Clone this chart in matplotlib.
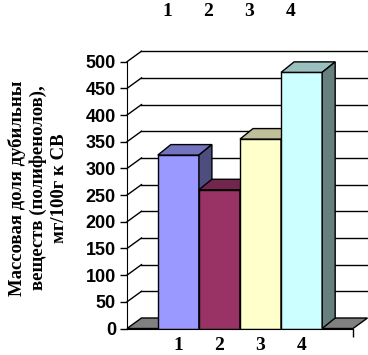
import numpy as np
import matplotlib.pyplot as plt
import matplotlib.transforms as mtransforms
from matplotlib.patches import Polygon

# data
categories = [1, 2, 3, 4]
values = [325, 260, 355, 480]
cat_labels = ['1', '2', '3', '4']
bar_colors = ['#9999FF', '#993366', '#FFFFCC', '#CCFFFF']
y_ticks = list(range(0, 501, 50))
y_title = 'Массовая доля дубильны\nвеществ (полифенолов),\nмг/100г к СВ'

W, H = 368, 355
fig = plt.figure(figsize=(W / 100, H / 100), dpi=100)
fig.patch.set_facecolor('white')

# front plane of the chart in pixels
x0, x1 = 127, 353
y0, y1 = 328.5, 61.7
ax = fig.add_axes([x0 / W, (H - y0) / H, (x1 - x0) / W, (y0 - y1) / H])

xmin, xmax = 0.25, 5.25 - 0.5 + 0.5
xmin, xmax = -0.25, 5.25
ax.set_xlim(xmin, xmax)
ax.set_ylim(0, 500)

# depth offset (3d look) in data units
px_x = (xmax - xmin) / (x1 - x0)
px_y = 500 / (y0 - y1)
dx, dy = 14.5 * px_x, 10.5 * px_y
bdx, bdy = 13 * px_x, 10.5 * px_y


def darker(c, f):
    r, g, b = [int(c[i:i + 2], 16) / 255 for i in (1, 3, 5)]
    return (r * f, g * f, b * f)


# floor
floor = Polygon([(xmin, 0), (xmax, 0), (xmax + dx, dy), (xmin + dx, dy)],
                closed=True, facecolor='#808080', edgecolor='black', lw=1,
                clip_on=False, zorder=1)
ax.add_patch(floor)

# back wall gridlines and left wall diagonals
for t in y_ticks[1:]:
    ax.plot([xmin + dx, xmax + dx], [t + dy, t + dy], color='black', lw=1,
            clip_on=False, zorder=0.5)
    ax.plot([xmin, xmin + dx], [t, t + dy], color='black', lw=1,
            clip_on=False, zorder=0.5)

# bars
for i, (x, v, c) in enumerate(zip(categories, values, bar_colors)):
    z = 2 + i
    ax.bar(x, v, width=1.0, color=c, edgecolor='black', lw=1, zorder=z)
    l, r = x - 0.5, x + 0.5
    top = Polygon([(l, v), (r, v), (r + bdx, v + bdy), (l + bdx, v + bdy)],
                  closed=True, facecolor=darker(c, 0.75), edgecolor='black',
                  lw=1, clip_on=False, zorder=z)
    side = Polygon([(r, 0), (r + bdx, bdy), (r + bdx, v + bdy), (r, v)],
                   closed=True, facecolor=darker(c, 0.5), edgecolor='black',
                   lw=1, clip_on=False, zorder=z)
    ax.add_patch(top)
    ax.add_patch(side)

for s in ['top', 'right']:
    ax.spines[s].set_visible(False)
ax.spines['left'].set_zorder(10)
ax.spines['bottom'].set_zorder(10)

ax.set_yticks(y_ticks)
ax.set_yticklabels([str(t) for t in y_ticks], fontfamily='Liberation Sans',
                   fontweight='bold', fontsize=13)
ax.tick_params(axis='y', direction='out', length=5, width=1, pad=3)

ax.set_xticks(categories)
ax.set_xticklabels(cat_labels, fontfamily='Liberation Serif',
                   fontweight='bold', fontsize=14)
ax.tick_params(axis='x', length=0, pad=6)
ax.set_xticks([xmax], minor=True)
ax.tick_params(axis='x', which='minor', length=6, width=1, direction='out')

# labels above the chart
trans = mtransforms.blended_transform_factory(ax.transData, fig.transFigure)
for x, lab in zip(categories, cat_labels):
    ax.text(x - 0.28, 1 - 12 / H, lab, transform=trans, ha='center',
            va='center', fontfamily='Liberation Serif', fontweight='bold',
            fontsize=14)

fig.text(38 / W, 1 - 188 / H, y_title, rotation=90, ha='center', va='center',
         multialignment='center', fontfamily='Liberation Serif',
         fontweight='bold', fontsize=13.5, linespacing=1.3)

fig.savefig('out.png', dpi=100)
